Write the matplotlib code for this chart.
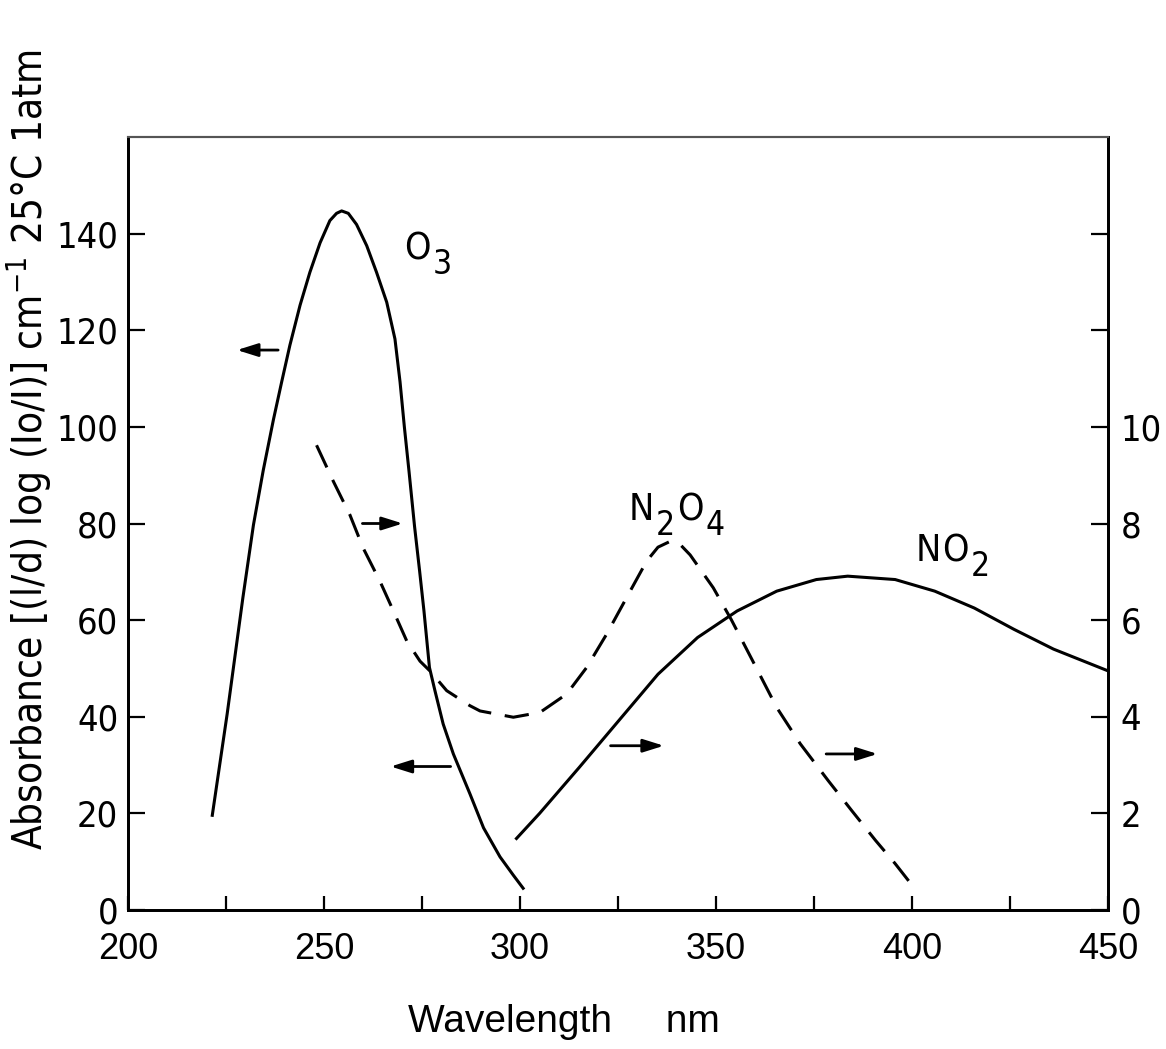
import numpy as np
import matplotlib.pyplot as plt
from matplotlib import font_manager

# O3 absorbance, read against the left axis
wl_o3 = [221.5, 225.3, 229.3, 232.0, 234.5, 237.1, 239.2, 241.3, 243.9, 246.4,
         249.0, 251.5, 253.2, 254.5, 256.2, 258.3, 260.9, 263.4, 266.0, 268.1,
         269.4, 270.5, 271.7, 273.1, 274.4, 275.5, 276.9, 278.3, 280.4, 283.0,
         285.1, 287.2, 290.7, 294.9, 298.3, 300.8]
abs_o3 = [19.6, 40.6, 64.6, 79.7, 91.0, 101.5, 109.3, 116.9, 125.2, 132.0,
          138.1, 142.7, 144.2, 144.7, 144.2, 141.9, 137.5, 132.0, 125.8, 118.2,
          109.3, 100.0, 90.7, 79.4, 70.1, 61.9, 50.2, 45.4, 38.5, 32.3,
          28.2, 24.1, 17.0, 11.0, 7.2, 4.5]

# N2O4 absorbance (dashed), read against the right axis
wl_n2o4 = [248.1, 252.4, 256.6, 260.0, 264.3, 267.7, 271.1, 274.5, 277.0, 281.3,
           287.2, 289.8, 298.3, 305.1, 311.9, 317.0, 322.1, 328.1, 332.3, 335.2,
           338.3, 340.8, 343.4, 349.3, 353.9, 359.4, 365.5, 371.5, 378.6, 384.6,
           390.7, 395.7, 401.3]
abs_n2o4 = [9.62, 8.87, 8.18, 7.49, 6.80, 6.19, 5.57, 5.15, 4.95, 4.54,
            4.23, 4.12, 3.99, 4.09, 4.47, 5.02, 5.71, 6.60, 7.22, 7.51,
            7.63, 7.57, 7.35, 6.67, 6.01, 5.15, 4.19, 3.44, 2.68, 2.06,
            1.44, 0.96, 0.38]

# NO2 absorbance, read against the right axis
wl_no2 = [299.1, 305.0, 315.1, 325.2, 335.2, 345.3, 355.4, 365.5, 375.6, 383.6,
          395.7, 405.8, 415.9, 426.0, 436.1, 450.0]
abs_no2 = [1.48, 2.00, 2.95, 3.92, 4.88, 5.64, 6.19, 6.60, 6.84, 6.91,
           6.84, 6.60, 6.25, 5.81, 5.40, 4.95]

# axis ticks
x_ticks = [200, 225, 250, 275, 300, 325, 350, 375, 400, 425, 450]
x_labels = ["200", "", "250", "", "300", "", "350", "", "400", "", "450"]
left_ticks = [0, 20, 40, 60, 80, 100, 120, 140]
right_ticks = [0, 2, 4, 6, 8, 10, 12, 14]
right_labels = ["0", "2", "4", "6", "8", "10", "", ""]

# arrows pointing to the axis each curve belongs to (tail x, head x, y on left axis)
arrows = [(238.3, 227.8, 115.9), (259.8, 270.1, 80.0), (282.3, 267.0, 29.7),
          (323.1, 336.7, 34.0), (378.1, 391.2, 32.3)]

# curve labels: pieces (text, is subscript), x, y of the bottom on the left axis
labels = [([("O", False), ("3", True)], 270.4, 133.0),
          ([("N", False), ("2", True), ("O", False), ("4", True)], 327.6, 79.0),
          ([("N", False), ("O", False), ("2", True)], 400.8, 70.5)]

# a narrow face for the tall, tight lettering of the y axis
avail = {f.name for f in font_manager.fontManager.ttflist}
if "Liberation Sans Narrow" in avail:
    fp_narrow = font_manager.FontProperties(family="Liberation Sans Narrow")
else:
    fp_narrow = font_manager.FontProperties(family="DejaVu Sans", stretch="condensed")

plt.rcParams["font.family"] = "Liberation Sans"
plt.rcParams["mathtext.fontset"] = "custom"
plt.rcParams["mathtext.rm"] = "DejaVu Sans:condensed"
plt.rcParams["mathtext.default"] = "regular"

fig = plt.figure(figsize=(11.66, 10.49), dpi=100)
ax = fig.add_axes([128 / 1166, 1 - 910 / 1049, 980 / 1166, 773 / 1049])
ax2 = ax.twinx()

lw = 2.2
ax.plot(wl_o3, abs_o3, color="k", lw=lw, solid_joinstyle="round")
ax2.plot(wl_n2o4, abs_n2o4, color="k", lw=lw, dashes=(8, 4.5))
ax2.plot(wl_no2, abs_no2, color="k", lw=lw, solid_joinstyle="round")

ax.set_xlim(200, 450)
ax.set_ylim(0, 160)
ax2.set_ylim(0, 16)

ax.set_xticks(x_ticks)
ax.set_xticklabels(x_labels)
ax.set_yticks(left_ticks)
ax2.set_yticks(right_ticks)
ax2.set_yticklabels(right_labels)

ax.tick_params(axis="x", direction="in", length=10, width=1.6, pad=16, labelsize=26)
ax.tick_params(axis="y", direction="in", length=12, width=1.6, pad=7)
ax2.tick_params(axis="y", direction="in", length=12, width=1.6, pad=9)
for lbl in ax.get_yticklabels() + ax2.get_yticklabels():
    lbl.set_fontproperties(fp_narrow)
    lbl.set_fontsize(26)

for a in (ax, ax2):
    for side in ("left", "right", "bottom"):
        a.spines[side].set_linewidth(2.0)
    a.spines["top"].set_linewidth(1.5)
    a.spines["top"].set_color("#555555")

for x0, x1, y in arrows:
    ax.annotate("", xy=(x1, y), xytext=(x0, y),
                arrowprops=dict(arrowstyle="-|>,head_length=0.7,head_width=0.22",
                                color="k", lw=2.0, mutation_scale=18,
                                shrinkA=0, shrinkB=0))

# chemical formulas with near full-size subscripts, as in the hand lettering
for pieces, x, y in labels:
    first = None
    prev = None
    for s, sub in pieces:
        size = 24 if sub else 27
        if first is None:
            t = ax.text(x, y, s, fontproperties=fp_narrow, fontsize=size,
                        ha="left", va="bottom")
            first = t
        else:
            t = ax.annotate(s, xy=(1, 0), xycoords=(prev, first),
                            xytext=(1.5, -10 if sub else 0), textcoords="offset points",
                            fontproperties=fp_narrow, fontsize=size,
                            ha="left", va="bottom")
        prev = t

ylab = fig.text(54 / 1166, 1 - 450 / 1049,
                "Absorbance [(l/d) log (Io/I)] cm$^{-1}$ 25°C 1atm",
                rotation=90, ha="right", va="center", fontproperties=fp_narrow)
ylab.set_fontsize(29)
fig.text(564 / 1166, 1 - 1022 / 1049, "Wavelength     nm",
         ha="center", va="center", fontsize=28)

fig.savefig("out.png", dpi=100)
